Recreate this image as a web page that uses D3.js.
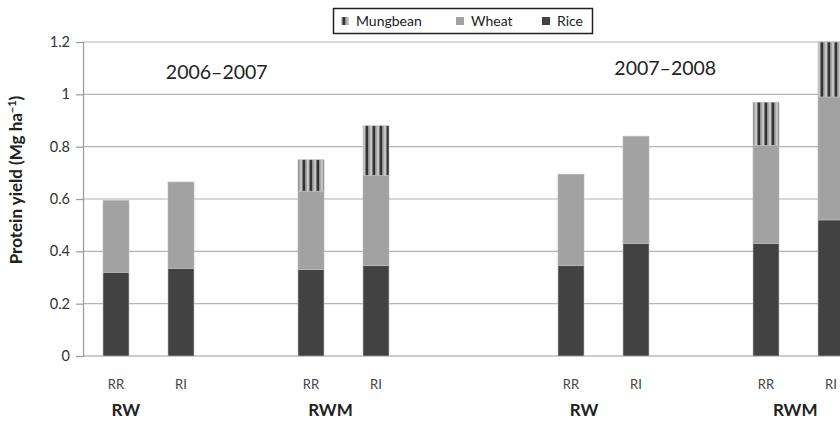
<!DOCTYPE html>
<html>
<head>
<meta charset="utf-8">
<script src="https://cdn.jsdelivr.net/npm/d3@7"></script>
<style>
  body { margin: 0; background: #fff; }
  svg { display: block; font-family: Lato, "Open Sans", sans-serif; }
</style>
</head>
<body>
<script>
'use strict';

// bars in order, with their slot on the category axis (blank slots separate groups)
const barLabels = ["RR", "RI", "RR", "RI", "RR", "RI", "RR", "RI"];
const barSlots = [0, 1, 3, 4, 7, 8, 10, 11];
const slotCount = 12;

// protein yield per crop (Mg ha-1)
const rice = [0.32, 0.335, 0.33, 0.345, 0.345, 0.43, 0.43, 0.52];
const wheat = [0.275, 0.33, 0.30, 0.345, 0.35, 0.41, 0.375, 0.47];
const mungbean = [0, 0, 0.12, 0.19, 0, 0, 0.165, 0.21];

const seriesNames = ["Rice", "Wheat", "Mungbean"];
const yTicks = [0, 0.2, 0.4, 0.6, 0.8, 1, 1.2];

// system labels, placed in slot units on the category axis
const groupLabels = ["RW", "RWM", "RW", "RWM"];
const groupPos = [0.15, 3.3, 7.2, 10.45];

const yearLabels = ["2006\u20132007", "2007\u20132008"];
const yearPos = [1.55, 8.45];

const width = 840, height = 421;

const svg = d3.select("body").append("svg")
  .attr("width", width)
  .attr("height", height);

const defs = svg.append("defs");
const pat = defs.append("pattern")
  .attr("id", "mung")
  .attr("patternUnits", "userSpaceOnUse")
  .attr("width", 7)
  .attr("height", 7)
  .attr("x", 0);
pat.append("rect").attr("width", 7).attr("height", 7).attr("fill", "#c4c4c4");
pat.append("rect").attr("x", 1.5).attr("width", 2.6).attr("height", 7).attr("fill", "#333");
pat.append("rect").attr("x", 4.1).attr("width", 1.4).attr("height", 7).attr("fill", "#8a8a8a");

const x = d3.scaleBand()
  .domain(d3.range(slotCount))
  .range([83.5, 863.5])
  .paddingInner(0.6)
  .paddingOuter(0.3);

const y = d3.scaleLinear()
  .domain([0, 1.2])
  .range([356, 42]);

// slot units -> pixel centre
const slotX = (s) => x(0) + x.bandwidth() / 2 + s * x.step();

// gridlines
svg.append("g")
  .selectAll("line")
  .data(yTicks.filter((d) => d > 0))
  .enter()
  .append("line")
  .attr("x1", 83)
  .attr("x2", width)
  .attr("y1", (d) => y(d))
  .attr("y2", (d) => y(d))
  .attr("stroke", "#b4b4b4")
  .attr("stroke-width", 1.2);

// y axis
const yAxis = d3.axisLeft(y)
  .tickValues(yTicks)
  .tickFormat((d) => String(d))
  .tickSize(7)
  .tickPadding(6);
const yg = svg.append("g")
  .attr("transform", "translate(83,0)")
  .call(yAxis);
yg.select(".domain").attr("stroke", "#9a9a9a").attr("stroke-width", 1.2);
yg.selectAll(".tick line").attr("stroke", "#9a9a9a").attr("stroke-width", 1.2);
yg.selectAll(".tick text")
  .attr("fill", "#333")
  .style("font-size", "14.5px")
  .style("font-family", "Lato, sans-serif");

// baseline
svg.append("line")
  .attr("x1", 83).attr("x2", width)
  .attr("y1", y(0)).attr("y2", y(0))
  .attr("stroke", "#9a9a9a")
  .attr("stroke-width", 1.2);

// stacked bars
const rows = barLabels.map((lab, i) => ({
  slot: barSlots[i], Rice: rice[i], Wheat: wheat[i], Mungbean: mungbean[i]
}));
const stacked = d3.stack().keys(seriesNames)(rows);
const fills = { Rice: "#424242", Wheat: "#a2a2a2", Mungbean: "url(#mung)" };

svg.append("g")
  .selectAll("g")
  .data(stacked)
  .enter()
  .append("g")
  .attr("fill", (s) => fills[s.key])
  .selectAll("rect")
  .data((s) => s.filter((d) => d[1] - d[0] > 0))
  .enter()
  .append("rect")
  .attr("x", (d) => x(d.data.slot))
  .attr("width", x.bandwidth())
  .attr("y", (d) => y(d[1]))
  .attr("height", (d) => y(d[0]) - y(d[1]))
  .attr("stroke", "#bdbdbd")
  .attr("stroke-width", 0.6);

// bar labels
svg.append("g")
  .selectAll("text")
  .data(barLabels)
  .enter()
  .append("text")
  .attr("x", (d, i) => x(barSlots[i]) + x.bandwidth() / 2)
  .attr("y", 389)
  .attr("text-anchor", "middle")
  .attr("fill", "#444")
  .style("font-size", "13px")
  .text((d) => d);

// group labels
svg.append("g")
  .selectAll("text")
  .data(groupLabels)
  .enter()
  .append("text")
  .attr("x", (d, i) => slotX(groupPos[i]))
  .attr("y", 416)
  .attr("text-anchor", "middle")
  .attr("fill", "#222")
  .style("font-size", "17px")
  .style("font-weight", "bold")
  .text((d) => d);

// year labels
svg.append("g")
  .selectAll("text")
  .data(yearLabels)
  .enter()
  .append("text")
  .attr("x", (d, i) => slotX(yearPos[i]))
  .attr("y", (d, i) => i === 0 ? 79 : 75)
  .attr("text-anchor", "middle")
  .attr("fill", "#222")
  .style("font-size", "19.5px")
  .text((d) => d);

// y axis title
svg.append("text")
  .attr("transform", "translate(22,180)rotate(-90)")
  .attr("text-anchor", "middle")
  .attr("fill", "#222")
  .style("font-size", "17px")
  .style("font-weight", "bold")
  .text("Protein yield (Mg ha")
  .append("tspan")
  .attr("dy", -6)
  .style("font-size", "11px")
  .text("\u22121")
  .append("tspan")
  .attr("dy", 6)
  .style("font-size", "17px")
  .text(")");

// legend
const legend = svg.append("g");
legend.append("rect")
  .attr("x", 333.5).attr("y", 8.5)
  .attr("width", 259).attr("height", 25)
  .attr("fill", "#fff")
  .attr("stroke", "#222")
  .attr("stroke-width", 1.5);

const legendItems = ["Mungbean", "Wheat", "Rice"];
const legendX = [341, 456, 542];
const legendG = legend.selectAll("g.item")
  .data(legendItems)
  .enter()
  .append("g")
  .attr("class", "item")
  .attr("transform", (d, i) => "translate(" + legendX[i] + ",17)");
legendG.append("rect")
  .attr("width", 8).attr("height", 8)
  .attr("fill", (d) => fills[d]);
legendG.append("text")
  .attr("x", 15)
  .attr("y", 8.5)
  .attr("fill", "#222")
  .style("font-size", "14px")
  .text((d) => d);
</script>
</body>
</html>
